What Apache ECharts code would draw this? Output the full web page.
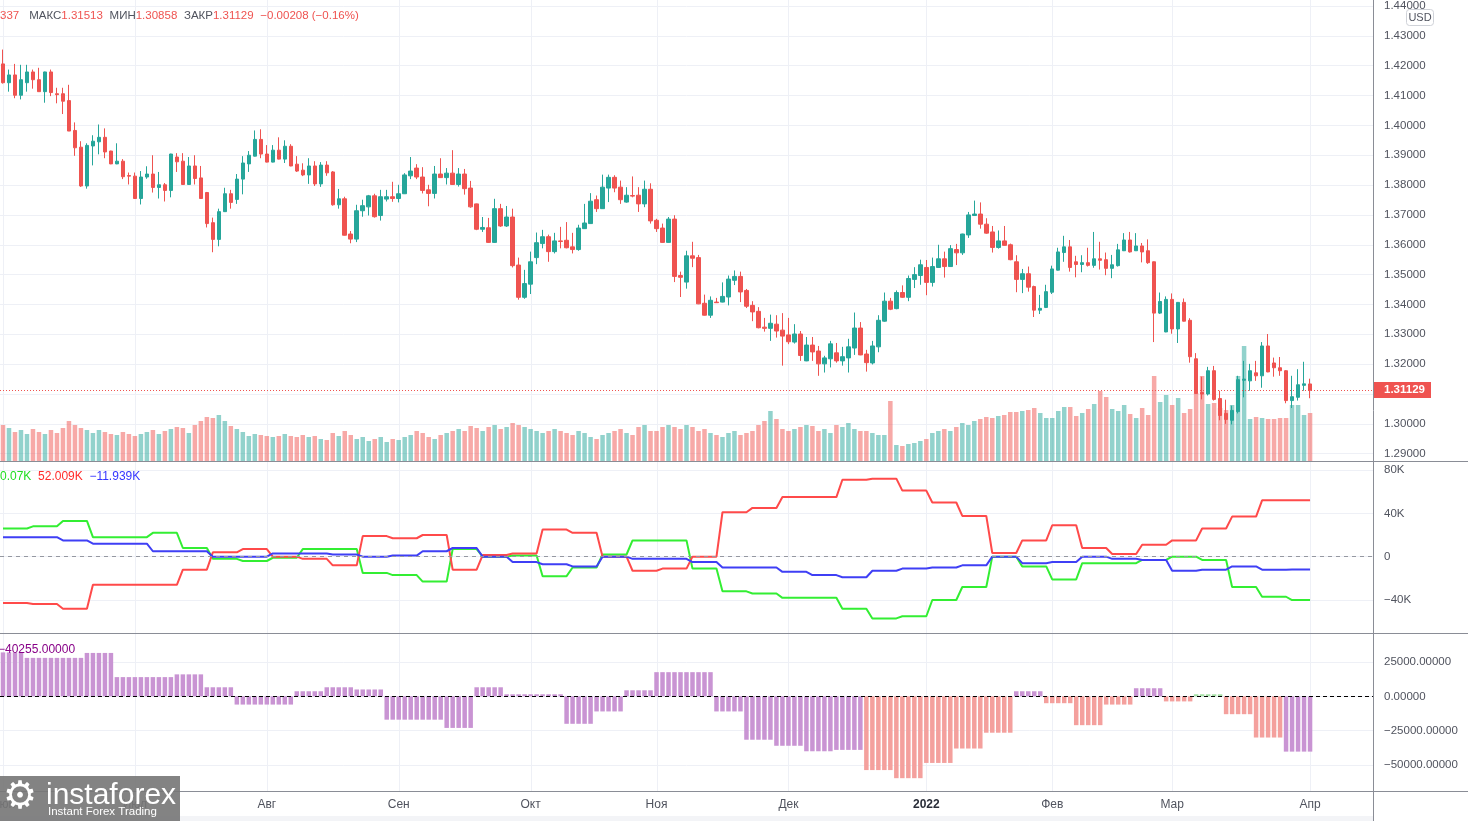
<!DOCTYPE html>
<html><head><meta charset="utf-8">
<script src="https://cdn.jsdelivr.net/npm/echarts@6/dist/echarts.min.js"></script>
<style>html,body{margin:0;padding:0;background:#fff;}#c{width:1468px;height:821px;}</style>
</head><body><div id="c"></div>
<script>
// ---------- DATA ----------
const firstDate = '2021-06-01';
const barCount = 219;      // trading days drawn
const padCount = 10;       // empty slots right of the last bar
const tickDates = ['2021-06-01','2021-07-01','2021-08-02','2021-09-01','2021-10-01','2021-11-01','2021-12-01','2022-01-03','2022-02-01','2022-03-01','2022-04-01'];
const tickLabels = ['Июн','Июл','Авг','Сен','Окт','Ноя','Дек','2022','Фев','Мар','Апр'];
// [open, close, low, high]
const candles = [
[1.4206,1.4143,1.4140,1.4254],[1.4143,1.4169,1.4113,1.4187],[1.4169,1.4101,1.4091,1.4206],[1.4101,1.4153,1.4087,1.4203],
[1.4143,1.4179,1.4113,1.4203],[1.4179,1.4153,1.4123,1.4187],[1.4153,1.4113,1.4113,1.4193],[1.4113,1.4179,1.4076,1.4180],[1.4179,1.4110,1.4098,1.4187],
[1.4106,1.4103,1.4074,1.4126],[1.4106,1.4081,1.4038,1.4126],[1.4083,1.3981,1.3981,1.4136],[1.3983,1.3925,1.3898,1.4010],[1.3927,1.3797,1.3794,1.3947],
[1.3797,1.3933,1.3788,1.3940],[1.3931,1.3947,1.3866,1.3967],[1.3945,1.3960,1.3903,1.4003],[1.3960,1.3911,1.3890,1.3990],[1.3914,1.3871,1.3870,1.3915],
[1.3871,1.3880,1.3870,1.3940],[1.3880,1.3828,1.3820,1.3887],[1.3832,1.3830,1.3802,1.3842],[1.3830,1.3755,1.3754,1.3842],[1.3755,1.3827,1.3735,1.3847],
[1.3827,1.3837,1.3821,1.3863],[1.3837,1.3792,1.3775,1.3900],[1.3792,1.3801,1.3755,1.3844],[1.3801,1.3782,1.3745,1.3807],[1.3782,1.3904,1.3759,1.3905],
[1.3894,1.3878,1.3844,1.3907],[1.3880,1.3802,1.3801,1.3907],[1.3802,1.3864,1.3801,1.3894],[1.3864,1.3822,1.3802,1.3900],[1.3824,1.3755,1.3754,1.3864],
[1.3775,1.3671,1.3658,1.3777],[1.3674,1.3618,1.3575,1.3691],[1.3618,1.3711,1.3595,1.3721],[1.3711,1.3771,1.3710,1.3791],[1.3771,1.3742,1.3721,1.3784],
[1.3752,1.3820,1.3737,1.3837],[1.3820,1.3874,1.3769,1.3897],[1.3871,1.3900,1.3844,1.3914],[1.3897,1.3953,1.3896,1.3983],[1.3953,1.3904,1.3890,1.3987],
[1.3904,1.3877,1.3876,1.3934],[1.3877,1.3917,1.3876,1.3934],[1.3917,1.3887,1.3886,1.3960],[1.3887,1.3930,1.3874,1.3950],[1.3930,1.3864,1.3863,1.3937],
[1.3870,1.3847,1.3844,1.3897],[1.3850,1.3834,1.3830,1.3873],[1.3834,1.3864,1.3804,1.3890],[1.3864,1.3804,1.3797,1.3880],[1.3804,1.3867,1.3794,1.3877],
[1.3867,1.3841,1.3831,1.3880],[1.3844,1.3734,1.3731,1.3847],[1.3734,1.3754,1.3721,1.3787],[1.3754,1.3632,1.3631,1.3761],[1.3636,1.3619,1.3605,1.3646],
[1.3619,1.3714,1.3609,1.3734],[1.3714,1.3731,1.3694,1.3751],[1.3727,1.3764,1.3698,1.3767],[1.3764,1.3694,1.3691,1.3771],[1.3698,1.3761,1.3681,1.3784],
[1.3753,1.3761,1.3745,1.3784],[1.3761,1.3755,1.3744,1.3811],[1.3755,1.3771,1.3742,1.3801],[1.3771,1.3834,1.3770,1.3840],[1.3831,1.3847,1.3820,1.3894],
[1.3857,1.3827,1.3820,1.3870],[1.3827,1.3782,1.3772,1.3860],[1.3784,1.3772,1.3729,1.3801],[1.3772,1.3837,1.3755,1.3864],[1.3837,1.3825,1.3824,1.3890],
[1.3825,1.3840,1.3802,1.3857],[1.3840,1.3802,1.3801,1.3917],[1.3802,1.3837,1.3795,1.3857],[1.3837,1.3788,1.3768,1.3854],[1.3790,1.3727,1.3724,1.3814],
[1.3737,1.3652,1.3649,1.3738],[1.3652,1.3658,1.3643,1.3693],[1.3657,1.3608,1.3606,1.3690],[1.3608,1.3721,1.3606,1.3754],[1.3721,1.3663,1.3660,1.3737],
[1.3663,1.3693,1.3660,1.3730],[1.3693,1.3530,1.3524,1.3721],[1.3532,1.3424,1.3416,1.3557],[1.3424,1.3470,1.3419,1.3516],[1.3468,1.3543,1.3435,1.3577],
[1.3557,1.3607,1.3535,1.3641],[1.3604,1.3627,1.3588,1.3650],[1.3627,1.3577,1.3543,1.3634],[1.3577,1.3613,1.3571,1.3640],[1.3613,1.3611,1.3588,1.3660],
[1.3615,1.3590,1.3588,1.3676],[1.3593,1.3584,1.3571,1.3640],[1.3584,1.3656,1.3580,1.3667],[1.3654,1.3673,1.3653,1.3737],[1.3671,1.3746,1.3670,1.3773],
[1.3751,1.3721,1.3710,1.3765],[1.3721,1.3793,1.3720,1.3835],[1.3790,1.3826,1.3743,1.3835],[1.3826,1.3790,1.3776,1.3833],[1.3793,1.3751,1.3737,1.3815],
[1.3743,1.3766,1.3741,1.3793],[1.3765,1.3763,1.3759,1.3829],[1.3766,1.3737,1.3710,1.3793],[1.3737,1.3786,1.3726,1.3815],[1.3786,1.3680,1.3671,1.3806],
[1.3682,1.3654,1.3643,1.3687],[1.3656,1.3608,1.3607,1.3671],[1.3608,1.3686,1.3607,1.3693],[1.3686,1.3494,1.3475,1.3699],[1.3497,1.3491,1.3425,1.3510],
[1.3475,1.3563,1.3453,1.3580],[1.3563,1.3555,1.3525,1.3610],[1.3557,1.3402,1.3401,1.3566],[1.3404,1.3364,1.3363,1.3433],[1.3364,1.3414,1.3355,1.3427],
[1.3408,1.3406,1.3405,1.3422],[1.3408,1.3427,1.3407,1.3474],[1.3425,1.3485,1.3397,1.3497],[1.3481,1.3494,1.3465,1.3514],[1.3494,1.3442,1.3408,1.3510],
[1.3447,1.3394,1.3388,1.3452],[1.3397,1.3375,1.3344,1.3411],[1.3377,1.3322,1.3320,1.3391],[1.3324,1.3320,1.3309,1.3355],[1.3320,1.3337,1.3278,1.3366],
[1.3334,1.3311,1.3289,1.3364],[1.3314,1.3294,1.3195,1.3371],[1.3298,1.3275,1.3267,1.3355],[1.3274,1.3301,1.3269,1.3334],[1.3301,1.3229,1.3211,1.3311],
[1.3211,1.3264,1.3210,1.3291],[1.3264,1.3241,1.3211,1.3291],[1.3244,1.3201,1.3161,1.3261],[1.3201,1.3221,1.3172,1.3228],[1.3218,1.3268,1.3189,1.3278],
[1.3238,1.3211,1.3205,1.3271],[1.3211,1.3225,1.3195,1.3258],[1.3221,1.3258,1.3172,1.3285],[1.3254,1.3321,1.3231,1.3373],[1.3321,1.3231,1.3230,1.3341],
[1.3234,1.3205,1.3175,1.3248],[1.3204,1.3261,1.3199,1.3278],[1.3258,1.3347,1.3240,1.3364],[1.3344,1.3411,1.3342,1.3440],[1.3411,1.3384,1.3381,1.3422],
[1.3386,1.3440,1.3384,1.3447],[1.3440,1.3424,1.3422,1.3464],[1.3424,1.3487,1.3411,1.3497],[1.3484,1.3500,1.3455,1.3525],[1.3497,1.3533,1.3466,1.3550],
[1.3524,1.3474,1.3431,1.3549],[1.3474,1.3527,1.3460,1.3557],[1.3524,1.3553,1.3523,1.3600],[1.3553,1.3527,1.3490,1.3577],[1.3527,1.3587,1.3526,1.3599],
[1.3584,1.3573,1.3532,1.3603],[1.3573,1.3636,1.3566,1.3637],[1.3633,1.3700,1.3623,1.3710],[1.3698,1.3703,1.3697,1.3748],[1.3703,1.3669,1.3654,1.3742],
[1.3669,1.3639,1.3637,1.3689],[1.3643,1.3591,1.3574,1.3663],[1.3591,1.3613,1.3587,1.3648],[1.3613,1.3598,1.3597,1.3663],[1.3600,1.3550,1.3548,1.3604],
[1.3543,1.3484,1.3441,1.3565],[1.3484,1.3503,1.3438,1.3519],[1.3503,1.3458,1.3443,1.3527],[1.3460,1.3381,1.3358,1.3463],[1.3381,1.3387,1.3368,1.3432],
[1.3390,1.3443,1.3388,1.3466],[1.3441,1.3519,1.3435,1.3530],[1.3515,1.3576,1.3514,1.3590],[1.3574,1.3593,1.3543,1.3630],[1.3593,1.3524,1.3510,1.3616],
[1.3543,1.3534,1.3491,1.3563],[1.3534,1.3540,1.3508,1.3565],[1.3540,1.3531,1.3527,1.3590],[1.3531,1.3553,1.3523,1.3643],[1.3553,1.3548,1.3517,1.3610],
[1.3550,1.3521,1.3498,1.3574],[1.3521,1.3533,1.3488,1.3566],[1.3530,1.3583,1.3527,1.3603],[1.3580,1.3616,1.3579,1.3639],[1.3616,1.3576,1.3574,1.3643],
[1.3580,1.3596,1.3579,1.3639],[1.3596,1.3576,1.3541,1.3606],[1.3580,1.3540,1.3536,1.3618],[1.3543,1.3371,1.3274,1.3544],[1.3371,1.3410,1.3368,1.3440],
[1.3308,1.3417,1.3307,1.3427],[1.3417,1.3318,1.3302,1.3437],[1.3318,1.3407,1.3271,1.3408],[1.3407,1.3344,1.3343,1.3420],[1.3347,1.3225,1.3205,1.3354],
[1.3218,1.3102,1.3101,1.3237],[1.3105,1.3100,1.3082,1.3158],[1.3100,1.3178,1.3095,1.3191],[1.3178,1.3082,1.3078,1.3194],[1.3085,1.3028,1.3012,1.3111],
[1.3035,1.3015,1.3000,1.3081],[1.3012,1.3045,1.2998,1.3061],[1.3041,1.3148,1.3035,1.3161],[1.3146,1.3150,1.3089,1.3211],[1.3144,1.3178,1.3111,1.3201],
[1.3171,1.3161,1.3144,1.3211],[1.3161,1.3261,1.3121,1.3274],[1.3261,1.3174,1.3173,1.3301],[1.3204,1.3188,1.3158,1.3222],[1.3188,1.3178,1.3161,1.3224],
[1.3178,1.3078,1.3069,1.3180],[1.3078,1.3091,1.3053,1.3161],[1.3089,1.3131,1.3078,1.3183],[1.3129,1.3134,1.3111,1.3208],[1.31337,1.31129,1.30858,1.31513]
];
// volume (relative units)
const volume = [
36,33,29,31,27,32,29,27,31,28,33,
40,36,33,31,28,31,29,27,26,29,27,
25,27,29,31,27,30,32,34,33,28,36,40,
44,43,46,40,35,32,29,25,27,26,
25,24,25,27,25,24,26,24,25,22,21,28,25,30,26,22,24,20,22,24,19,22,
21,24,26,30,28,24,22,26,28,30,32,30,35,33,
30,34,36,32,34,38,36,34,32,30,28,30,32,30,28,26,30,28,24,22,26,28,30,32,28,26,34,36,30,
30,34,36,34,32,36,34,30,32,28,26,24,28,30,26,28,30,36,40,50,42,32,
30,32,34,36,35,30,32,28,36,34,38,32,30,30,28,26,26,60,16,15,17,18,20,
22,28,30,32,30,34,38,36,40,42,44,
43,45,46,49,49,50,51,53,48,43,43,50,54,54,45,48,52,57,70,64,52,50,56,47,43,53,46,85,59,66,
56,63,48,52,68,85,57,58,53,51,56,85,115,42,44,43,42,42,43,43,56,56,46,48
];
// weekly indicator values (lines step on Tuesdays, histogram on Mondays)
const cotGreen = [26,28,33,18,18,22,8,-2,-4,-1,7,7,-15,-17,-23,7,0,1,-18,-10,2,15,15,-11,-32,-34,-38,-38,-48,-57,-55,-40,-28,0,-9,-21,-6,-6,-3,0,-3,-28,-37,-40.07].map(v=>v*1000);
const cotRed   = [-42.7,-43.7,-48,-26,-26,-26,-12,4,7,0,-2,-8,19,17,20,-12,1.5,3,25,22,0,-13,-11,0,41,45,55,55,71,72,61,50,37.6,3.4,15,29,8,2.5,11,15,26,37,52,52.009].map(v=>v*1000);
const cotBlue  = [18,18,15,12,12,5,5,0,0,3,3,2,0,1,5,8,0,-5,-7,-9,0,-2,-2,-5,-10,-10,-14,-17,-19,-13,-11,-10,-8,0,-6,-5,0,-2,-3,-13,-12,-9,-12,-11.939].map(v=>v*1000);
const histWeekly = [32000,28000,28000,31600,14000,14000,16000,6600,-6000,-6000,3700,6600,5000,-17000,-17000,-23000,6600,1500,1500,-20000,-11000,4400,17600,17600,-11000,-31600,-36000,-40000,-39000,-53700,-59600,-48500,-38000,-26500,3700,-5000,-21000,-6000,5900,-3700,1500,-13000,-30000,-40255];
const histKind   = ['p','p','p','p','p','p','p','p','p','p','p','p','p','p','p','p','p','p','p','p','p','p','p','p','p','p','p','p','p','s','s','s','s','s','p','s','s','s','p','s','g','s','s','p'];

// ---------- BUILD ----------
const up='#26a69a', down='#ef5350';
const cats=[];
(function(){let d=new Date(firstDate+'T00:00:00Z');while(cats.length<barCount+padCount){const w=d.getUTCDay();if(w>0&&w<6)cats.push(d.toISOString().slice(0,10));d.setUTCDate(d.getUTCDate()+1);}})();
function weekIndex(startDay){const out=[];let k=0;for(let i=0;i<barCount;i++){if(i>0&&new Date(cats[i]+'T00:00:00Z').getUTCDay()===startDay)k++;out.push(k);}return out;}
const weekMon=weekIndex(1), weekTue=weekIndex(2);
const daily=(arr,wk)=>wk.map(w=>arr[w]);
const histColors={p:'#c994d3',s:'#f4a09d',g:'#a5e0a5'};
const volData=volume.map((v,i)=>({value:v,itemStyle:{color:candles[i][1]>=candles[i][0]?'rgba(38,166,154,0.5)':'rgba(239,83,80,0.5)'}}));
const histData=weekMon.map(w=>({value:histWeekly[w],itemStyle:{color:histColors[histKind[w]]}}));
const font='Liberation Sans, Arial, sans-serif';
const txt='#50535e', gridC='#eef0f6';
const xa=(g)=>({type:'category',gridIndex:g,data:cats,boundaryGap:true,axisLine:{show:false},axisTick:{show:false},axisLabel:{show:false},splitLine:{show:false}});
const ya=(g,min,max,interval,fmt)=>({type:'value',gridIndex:g,position:'right',min,max,interval,axisLine:{show:false},axisTick:{show:false},
  axisLabel:{color:txt,fontFamily:font,fontSize:11.5,margin:11,formatter:fmt},splitLine:{show:true,lineStyle:{color:gridC,width:1}}});
const minus=s=>s.replace('-','\u2212');

const chart=echarts.init(document.getElementById('c'),null,{renderer:'canvas'});
const option={
  animation:false,backgroundColor:'#ffffff',
  grid:[
    {left:-1,width:1374,top:2.63,height:451.07},
    {left:-1,width:1374,top:300,height:161},
    {left:-1,width:1374,top:470,height:130},
    {left:-1,width:1374,top:662,height:103}
  ],
  xAxis:[xa(0),xa(1),xa(2),xa(3)],
  yAxis:[
    ya(0,1.29,1.44,0.01,v=>v.toFixed(5)),
    {type:'value',gridIndex:1,min:0,max:161,show:false},
    ya(2,-40000,80000,40000,v=>v===0?'0':minus((v/1000)+'K')),
    ya(3,-50000,25000,25000,v=>minus(v.toFixed(5)))
  ],
  series:[
    {type:'bar',xAxisIndex:1,yAxisIndex:1,data:volData,barWidth:4.5,z:1},
    {type:'candlestick',xAxisIndex:0,yAxisIndex:0,data:candles,barWidth:4,z:3,
      itemStyle:{color:up,color0:down,borderColor:up,borderColor0:down,borderWidth:1}},
    {type:'line',xAxisIndex:2,yAxisIndex:2,data:daily(cotGreen,weekTue),showSymbol:false,clip:false,lineStyle:{color:'#33ee33',width:2},z:3},
    {type:'line',xAxisIndex:2,yAxisIndex:2,data:daily(cotRed,weekTue),showSymbol:false,clip:false,lineStyle:{color:'#ff4a4a',width:2},z:3},
    {type:'line',xAxisIndex:2,yAxisIndex:2,data:daily(cotBlue,weekTue),showSymbol:false,clip:false,lineStyle:{color:'#3f3ff5',width:2},z:3,
      markLine:{symbol:'none',silent:true,label:{show:false},lineStyle:{color:'#9598a1',type:[4,4],width:1},data:[{yAxis:0}]}},
    {type:'bar',xAxisIndex:3,yAxisIndex:3,data:histData,barWidth:4.5,clip:false,z:2,
      markLine:{symbol:'none',silent:true,label:{show:false},lineStyle:{color:'#000',type:[4,3],width:1},data:[{yAxis:0}],z:5}}
  ]
};
chart.setOption(option);

// ---------- OVERLAYS ----------
const g=[];
tickDates.forEach((d,k)=>{const xc=chart.convertToPixel({xAxisIndex:0},d);const x=Math.round(xc)+0.5;
  g.push({type:'line',z:-10,silent:true,shape:{x1:x,y1:0,x2:x,y2:791},style:{stroke:gridC,lineWidth:1}});
  const isYear=tickLabels[k]==='2022';
  g.push({type:'text',z:30,silent:true,style:{x:xc,y:805,text:tickLabels[k],fill:isYear?'#2a2e39':txt,font:(isYear?'bold ':'')+'12px '+font,textAlign:'center',textVerticalAlign:'middle'}});
});
const sep='#8a8d96';
[461.5,633.5,791.5].forEach(y=>g.push({type:'line',z:50,silent:true,shape:{x1:0,y1:y,x2:1468,y2:y},style:{stroke:sep,lineWidth:1}}));
g.push({type:'line',z:50,silent:true,shape:{x1:1373.5,y1:0,x2:1373.5,y2:821},style:{stroke:sep,lineWidth:1}});
g.push({type:'rect',z:40,silent:true,shape:{x:0,y:816,width:1373,height:5},style:{fill:'#f3f4f7'}});
// last price line + label
const lastC=candles[barCount-1][1];
const py=chart.convertToPixel({yAxisIndex:0},lastC);
const pyl=Math.round(py)+0.5;
g.push({type:'line',z:2,silent:true,shape:{x1:0,y1:pyl,x2:1373,y2:pyl},style:{stroke:down,lineWidth:1,lineDash:[1,2]}});
g.push({type:'rect',z:60,shape:{x:1374,y:Math.round(py)-8,width:57,height:16},style:{fill:down}});
g.push({type:'text',z:61,style:{x:1384,y:Math.round(py),text:lastC.toFixed(5),fill:'#fff',font:'bold 11.5px '+font,textVerticalAlign:'middle'}});
// USD box
g.push({type:'rect',z:60,shape:{x:1406.5,y:9.5,width:27,height:16,r:3},style:{fill:'#fff',stroke:'#cfd2d8',lineWidth:1}});
g.push({type:'text',z:61,style:{x:1420,y:17.5,text:'USD',fill:txt,font:'11px '+font,textAlign:'center',textVerticalAlign:'middle'}});
// header
g.push({type:'text',z:60,style:{x:0,y:15.5,textVerticalAlign:'middle',
  text:'{v|337}   {l|МАКС}{v|1.31513}  {l|МИН}{v|1.30858}  {l|ЗАКР}{v|1.31129}  {v|\u22120.00208 (\u22120.16%)}',
  rich:{v:{fill:down,font:'11.5px '+font},l:{fill:txt,font:'11.5px '+font}}}});
// indicator legends
g.push({type:'text',z:60,style:{x:0,y:476.5,textVerticalAlign:'middle',
  text:'{g|0.07K}  {r|52.009K}  {b|\u221211.939K}',
  rich:{g:{fill:'#22dd22',font:'12px '+font},r:{fill:'#ff2b2b',font:'12px '+font},b:{fill:'#3535ff',font:'12px '+font}}}});
g.push({type:'text',z:60,style:{x:-2,y:649.5,text:'\u221240255.00000',fill:'#880088',font:'12px '+font,textVerticalAlign:'middle'}});
// logo
g.push({type:'rect',z:70,shape:{x:0,y:776,width:180,height:45},style:{fill:'rgba(118,118,118,0.9)'}});
g.push({type:'text',z:71,style:{x:3,y:798,text:'\u2699',fill:'#fff',font:'38px DejaVu Sans',textVerticalAlign:'middle'}});
g.push({type:'text',z:71,style:{x:46,y:796,text:'instaforex',fill:'#fff',font:'30px '+font,textVerticalAlign:'middle'}});
g.push({type:'text',z:71,style:{x:48,y:812,text:'Instant Forex Trading',fill:'#fff',font:'11.5px '+font,textVerticalAlign:'middle'}});
chart.setOption({graphic:g});
</script></body></html>
